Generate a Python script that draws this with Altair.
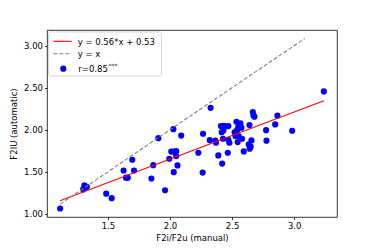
import altair as alt
import pandas as pd

# F2i/F2u (manual) vs F2IU (automatic)
x_manual = [1.115, 1.30, 1.31, 1.33, 1.486, 1.53, 1.626, 1.645, 1.66, 1.696,
            1.71, 1.85, 1.865, 1.906, 1.96, 1.994, 2.01, 2.03, 2.05, 2.027,
            2.03, 2.05, 2.06, 2.09, 2.228, 2.263, 2.266, 2.32, 2.327, 2.365,
            2.37, 2.389, 2.42, 2.465, 2.41, 2.43, 2.45, 2.47, 2.416, 2.427,
            2.478, 2.535, 2.567, 2.55, 2.575, 2.52, 2.54, 2.527, 2.553, 2.58,
            2.545, 2.656, 2.64, 2.634, 2.642, 2.594, 2.667, 2.672, 2.68, 2.774,
            2.777, 2.847, 2.865, 2.984, 3.239, 2.47, 2.43, 2.65]
y_auto = [1.063, 1.29, 1.34, 1.32, 1.24, 1.186, 1.515, 1.43, 1.43, 1.643,
          1.515, 1.42, 1.578, 1.90, 1.28, 1.655, 1.74, 1.74, 1.745, 2.007,
          1.495, 1.686, 1.575, 1.93, 1.726, 1.49, 1.952, 1.876, 2.26, 1.87,
          1.845, 1.694, 1.597, 1.726, 2.043, 2.045, 2.04, 2.043, 1.97, 1.893,
          1.845, 2.095, 2.075, 2.035, 2.024, 1.97, 1.995, 1.924, 1.924, 1.893,
          1.853, 1.873, 2.055, 1.825, 1.774, 1.742, 2.21, 2.17, 2.155, 1.995,
          1.87, 2.063, 2.167, 1.988, 2.456, 1.88, 1.99, 1.80]

slope = 0.56
intercept = 0.53
fit_x = [1.115, 3.239]
identity_x = [1.115, 3.085]

legend_labels = ["y = 0.56*x + 0.53", "y = x", "r=0.85"]
legend_sup = "***"

x_ticks = [1.5, 2.0, 2.5, 3.0]
y_ticks = [1.00, 1.25, 1.50, 1.75, 2.00, 2.25, 2.50, 2.75, 3.00]

FONT = "DejaVu Sans"
FS = 8.5

df = pd.DataFrame({"x": x_manual, "y": y_auto})
fit_df = pd.DataFrame({"x": fit_x, "y": [slope * v + intercept for v in fit_x]})
id_df = pd.DataFrame({"x": identity_x, "y": identity_x})

xs = alt.Scale(domain=[1.009, 3.345], nice=False, zero=False)
ys = alt.Scale(domain=[0.962, 3.186], nice=False, zero=False)

xax = alt.Axis(values=x_ticks, format=".1f", title="F2i/F2u (manual)")
yax = alt.Axis(values=y_ticks, format=".2f", title="F2IU (automatic)")

points = alt.Chart(df).mark_circle(size=38, color="#0000ff", opacity=1).encode(
    x=alt.X("x:Q", scale=xs, axis=xax),
    y=alt.Y("y:Q", scale=ys, axis=yax),
)

fit = alt.Chart(fit_df).mark_line(color="#ff0000", strokeWidth=1.1).encode(
    x=alt.X("x:Q", scale=xs), y=alt.Y("y:Q", scale=ys)
)

ident = alt.Chart(id_df).mark_line(color="#808080", strokeWidth=1.1, strokeDash=[4, 2]).encode(
    x=alt.X("x:Q", scale=xs), y=alt.Y("y:Q", scale=ys)
)

one = pd.DataFrame({"a": [0]})
leg_box = alt.Chart(one).mark_rect(
    fill="white", fillOpacity=0.8, stroke="#cccccc", strokeWidth=0.8, cornerRadius=2
).encode(x=alt.value(1.5), x2=alt.value(114.5), y=alt.value(2), y2=alt.value(46))
leg_red = alt.Chart(one).mark_rule(color="#ff0000", strokeWidth=1.1).encode(
    x=alt.value(6.3), x2=alt.value(24.7), y=alt.value(11.3))
leg_gray = alt.Chart(one).mark_rule(color="#808080", strokeWidth=1.1, strokeDash=[4, 2]).encode(
    x=alt.value(6.3), x2=alt.value(24.7), y=alt.value(23.7))
leg_dot = alt.Chart(one).mark_circle(size=38, color="#0000ff", opacity=1).encode(
    x=alt.value(16.3), y=alt.value(38.7))
leg_t1 = alt.Chart(one).mark_text(text=legend_labels[0], align="left", baseline="middle",
                                  font=FONT, fontSize=FS, color="#000000").encode(
    x=alt.value(30.7), y=alt.value(11.5))
leg_t2 = alt.Chart(one).mark_text(text=legend_labels[1], align="left", baseline="middle",
                                  font=FONT, fontSize=FS, color="#000000").encode(
    x=alt.value(30.7), y=alt.value(23.9))
leg_t3 = alt.Chart(one).mark_text(text=legend_labels[2], align="left", baseline="middle",
                                  font=FONT, fontSize=FS, color="#000000").encode(
    x=alt.value(31.3), y=alt.value(38.9))
leg_sup = alt.Chart(one).mark_text(text=legend_sup, align="left", baseline="middle",
                                   font=FONT, fontSize=6, color="#000000").encode(
    x=alt.value(61.5), y=alt.value(35.5))

chart = alt.layer(
    points, fit, ident, leg_box, leg_red, leg_gray, leg_dot, leg_t1, leg_t2, leg_t3, leg_sup
).properties(
    width=290, height=187,
    autosize=alt.AutoSizeParams(type="none"),
    padding={"left": 39, "top": 22, "right": 20, "bottom": 30},
).configure_view(
    stroke="#000000", strokeWidth=0.8
).configure_axis(
    grid=False, domain=False, tickColor="#000000", tickSize=2.5, tickWidth=0.8,
    labelFont=FONT, labelFontSize=FS, labelColor="#000000", labelPadding=2,
    titleFont=FONT, titleFontSize=FS, titleFontWeight="normal", titleColor="#000000",
).configure_axisX(titlePadding=3).configure_axisY(titlePadding=5)

chart.save("out.html", embed_options={"renderer": "svg", "actions": False})
